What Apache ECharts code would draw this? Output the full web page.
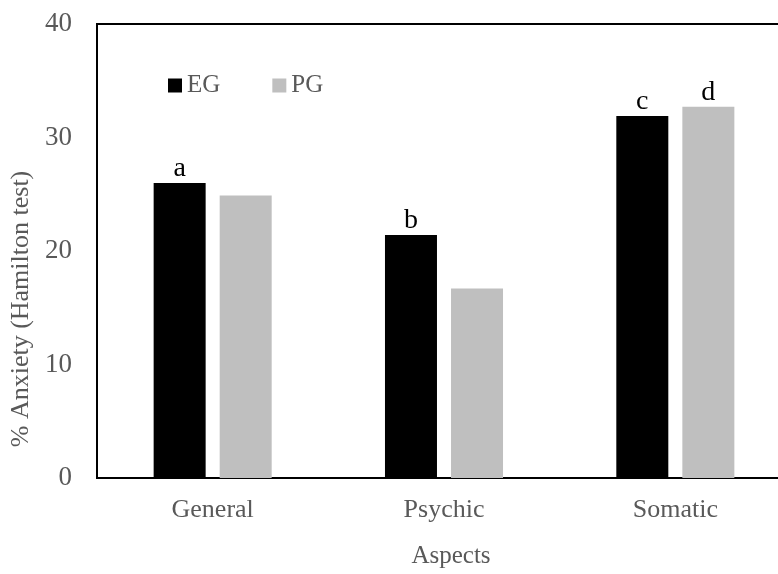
<!DOCTYPE html>
<html>
<head>
<meta charset="utf-8">
<script src="https://cdn.jsdelivr.net/npm/echarts@6/dist/echarts.min.js"></script>
<style>
  html, body { margin: 0; padding: 0; background: #fff; overflow: hidden; }
  /* the plot frame continues a little past the visible right edge */
  #chart { width: 792px; height: 574px; }
</style>
</head>
<body>
<div id="chart"></div>
<script>
// Hamilton anxiety scores by aspect, experimental vs placebo group
const categories = ['General', 'Psychic', 'Somatic'];
const seriesNames = ['EG', 'PG'];
const egValues = [26.0, 21.4, 31.9];
const pgValues = [24.9, 16.7, 32.7];
// significance letters shown above bars ('' = none)
const egLetters = ['a', 'b', 'c'];
const pgLetters = ['', '', 'd'];
const yTicks = { min: 0, max: 40, interval: 10 };

const serif = "'Liberation Serif', 'Times New Roman', serif";
const grey = '#595959';

const chart = echarts.init(document.getElementById('chart'));

function letterLabel(letters) {
  return {
    show: true,
    position: 'top',
    distance: 0,
    color: '#000',
    fontFamily: serif,
    fontSize: 28,
    formatter: p => letters[p.dataIndex]
  };
}

chart.setOption({
  animation: false,
  backgroundColor: '#fff',
  textStyle: { fontFamily: serif },
  grid: {
    left: 97, top: 24, right: 1, bottom: 96,
    show: true, borderColor: '#000', borderWidth: 2
  },
  legend: {
    data: seriesNames,
    left: 168, top: 73,
    padding: 0,
    icon: 'rect',
    itemWidth: 14, itemHeight: 14,
    itemGap: 52,
    textStyle: { color: grey, fontFamily: serif, fontSize: 25 }
  },
  xAxis: {
    type: 'category',
    data: categories,
    name: 'Aspects',
    nameLocation: 'middle',
    nameGap: 66,
    nameTextStyle: { color: grey, fontFamily: serif, fontSize: 25, padding: [0, 0, 0, 14] },
    axisLine: { lineStyle: { color: '#000', width: 2 } },
    axisTick: { show: false },
    axisLabel: { color: grey, fontFamily: serif, fontSize: 26, margin: 19 }
  },
  yAxis: {
    type: 'value',
    min: yTicks.min, max: yTicks.max, interval: yTicks.interval,
    name: '% Anxiety (Hamilton test)',
    nameLocation: 'middle',
    nameGap: 52,
    nameTextStyle: { color: grey, fontFamily: serif, fontSize: 26, padding: [0, 116, 0, 0] },
    axisLine: { show: true, lineStyle: { color: '#000', width: 2 } },
    axisTick: { show: false },
    splitLine: { show: false },
    axisLabel: { color: grey, fontFamily: serif, fontSize: 27, margin: 25 }
  },
  series: [
    {
      name: seriesNames[0], type: 'bar', data: egValues,
      barWidth: 52, barGap: '27%',
      itemStyle: { color: '#000000' },
      label: letterLabel(egLetters)
    },
    {
      name: seriesNames[1], type: 'bar', data: pgValues,
      barWidth: 52,
      itemStyle: { color: '#BFBFBF' },
      label: letterLabel(pgLetters)
    }
  ]
});
</script>
</body>
</html>
